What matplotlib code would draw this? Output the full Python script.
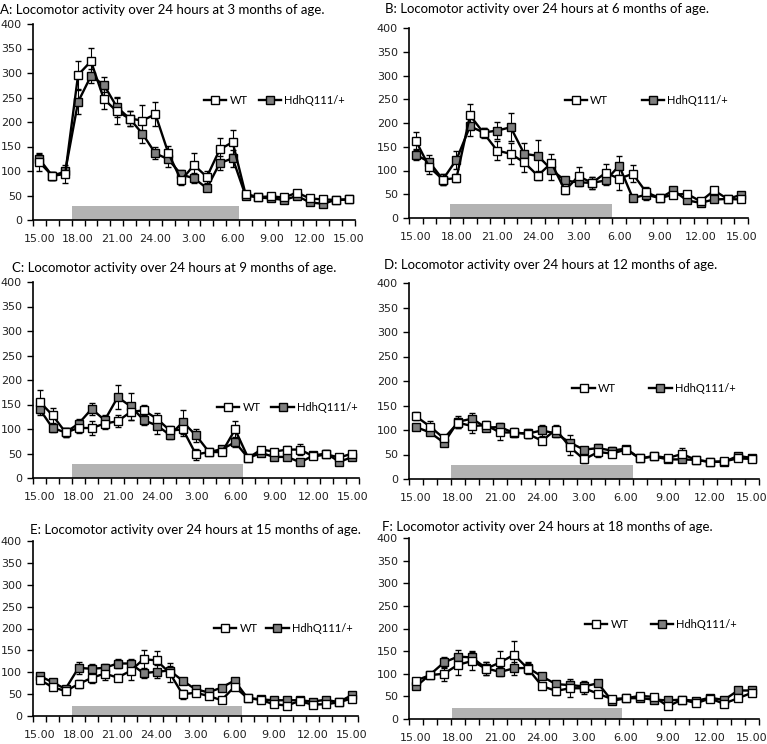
import matplotlib
matplotlib.use("Agg")
import matplotlib.pyplot as plt
import numpy as np

# hourly bins, 15.00 -> 15.00 next day
hour_labels = ['15.00', '18.00', '21.00', '24.00', '3.00', '6.00', '9.00', '12.00', '15.00']

A_wt = [118, 90, 94, 296, 324, 247, 222, 207, 203, 216, 137, 81, 112, 88, 144, 159, 53, 47, 48, 46, 56, 44, 42, 41, 42]
A_wt_err = [18, 8, 18, 29, 28, 20, 27, 15, 31, 25, 15, 10, 24, 12, 23, 25, 6, 5, 6, 6, 6, 5, 5, 5, 5]
A_hd = [124, 90, 99, 241, 294, 276, 231, 207, 176, 136, 124, 93, 85, 65, 116, 126, 50, 46, 44, 41, 49, 36, 33, 41, 42]
A_hd_err = [10, 8, 8, 24, 15, 15, 20, 15, 19, 12, 15, 10, 10, 6, 14, 17, 6, 5, 5, 6, 5, 5, 5, 5, 5]

B_wt = [163, 107, 81, 84, 216, 179, 142, 135, 117, 89, 116, 58, 88, 74, 95, 83, 93, 54, 42, 49, 51, 35, 58, 40, 39]
B_wt_err = [18, 15, 12, 8, 24, 10, 20, 22, 21, 10, 18, 8, 19, 12, 18, 25, 18, 12, 6, 5, 6, 5, 5, 5, 5]
B_hd = [133, 118, 81, 123, 193, 180, 184, 191, 135, 131, 102, 79, 75, 74, 79, 110, 42, 49, 42, 58, 37, 32, 39, 40, 49]
B_hd_err = [10, 15, 12, 19, 20, 10, 18, 29, 22, 34, 21, 8, 8, 12, 10, 20, 5, 12, 6, 5, 5, 5, 5, 5, 5]

C_wt = [156, 128, 93, 102, 102, 111, 116, 135, 138, 121, 97, 99, 48, 53, 53, 99, 41, 58, 54, 58, 58, 44, 48, 42, 50]
C_wt_err = [24, 15, 10, 10, 14, 10, 12, 16, 10, 12, 10, 14, 12, 6, 6, 17, 5, 6, 5, 8, 12, 5, 6, 5, 5]
C_hd = [141, 102, 93, 111, 141, 118, 165, 146, 118, 107, 88, 114, 87, 53, 59, 73, 41, 51, 43, 43, 32, 46, 50, 33, 43]
C_hd_err = [12, 8, 10, 10, 12, 10, 24, 27, 10, 17, 8, 24, 13, 6, 6, 10, 5, 5, 5, 5, 6, 5, 8, 5, 5]

D_wt = [128, 107, 83, 115, 108, 110, 95, 95, 92, 78, 101, 65, 40, 55, 52, 60, 42, 47, 43, 51, 39, 35, 36, 42, 41]
D_wt_err = [8, 12, 6, 10, 14, 8, 15, 10, 8, 6, 10, 15, 8, 10, 6, 5, 5, 5, 5, 12, 5, 4, 5, 5, 5]
D_hd = [106, 95, 74, 117, 123, 105, 106, 94, 93, 99, 93, 74, 60, 63, 58, 62, 42, 46, 40, 40, 39, 35, 35, 47, 43]
D_hd_err = [6, 6, 5, 12, 12, 8, 8, 6, 10, 12, 8, 15, 6, 8, 8, 6, 5, 5, 5, 5, 5, 4, 5, 5, 5]

E_wt = [83, 66, 57, 73, 87, 97, 88, 103, 130, 127, 99, 50, 53, 46, 36, 67, 41, 37, 27, 24, 34, 26, 27, 31, 40]
E_wt_err = [8, 6, 6, 10, 12, 14, 8, 20, 20, 22, 22, 10, 6, 5, 5, 6, 5, 5, 5, 5, 5, 5, 5, 5, 5]
E_hd = [92, 77, 62, 110, 108, 110, 120, 120, 98, 101, 104, 81, 61, 54, 65, 81, 41, 38, 36, 36, 36, 33, 37, 32, 47]
E_hd_err = [6, 6, 6, 14, 12, 10, 10, 10, 10, 15, 10, 6, 5, 5, 5, 6, 5, 5, 5, 5, 5, 5, 5, 5, 5]

F_wt = [85, 97, 100, 120, 128, 111, 125, 142, 111, 73, 62, 68, 68, 56, 44, 46, 51, 49, 28, 43, 35, 45, 34, 46, 58]
F_wt_err = [6, 6, 15, 22, 20, 14, 26, 30, 12, 6, 8, 20, 12, 6, 5, 5, 5, 5, 5, 5, 5, 5, 5, 6, 6]
F_hd = [72, 98, 125, 138, 136, 112, 104, 112, 113, 94, 77, 75, 72, 79, 40, 46, 46, 43, 41, 43, 40, 47, 42, 63, 63]
F_hd_err = [5, 6, 12, 15, 14, 14, 10, 14, 12, 6, 8, 8, 12, 6, 5, 5, 5, 5, 5, 5, 5, 5, 5, 6, 6]

# dark phase bar (start bin, end bin, height)
dark = {'A': (2.5, 15.5, 28), 'B': (2.5, 14.5, 29), 'C': (2.5, 15.6, 28),
        'D': (2.5, 15.5, 29), 'E': (2.5, 15.6, 24), 'F': (2.6, 14.7, 24)}

months = {'A': 3, 'B': 6, 'C': 9, 'D': 12, 'E': 15, 'F': 18}

W, H = 767, 744

# axes boxes in pixels: left, right, top(400), bottom(0)
boxes = {'A': (33, 355, 24, 220), 'B': (409, 748, 28, 218),
         'C': (33, 359, 282, 478), 'D': (409, 759, 283, 479),
         'E': (33, 358, 541, 716), 'F': (409, 759, 538, 719)}
title_pos = {'A': (0, 10), 'B': (385, 9), 'C': (12, 268), 'D': (384, 265),
             'E': (30, 530), 'F': (382, 527)}
legend_pos = {'A': (0.75, 0.61, 1.0), 'B': (0.70, 0.62, 3.0), 'C': (0.78, 0.36, 1.0),
              'D': (0.70, 0.46, 3.0), 'E': (0.77, 0.50, 0.8), 'F': (0.72, 0.52, 2.0)}

series = {'A': (A_wt, A_wt_err, A_hd, A_hd_err), 'B': (B_wt, B_wt_err, B_hd, B_hd_err),
          'C': (C_wt, C_wt_err, C_hd, C_hd_err), 'D': (D_wt, D_wt_err, D_hd, D_hd_err),
          'E': (E_wt, E_wt_err, E_hd, E_hd_err), 'F': (F_wt, F_wt_err, F_hd, F_hd_err)}

title_font = 'Lato'
tick_font = 'DejaVu Sans'

fig = plt.figure(figsize=(W / 100, H / 100), dpi=100)


def draw_panel(key):
    l, r, t, b = boxes[key]
    ax = fig.add_axes([l / W, 1 - b / H, (r - l) / W, (b - t) / H])
    wt, wt_err, hd, hd_err = series[key]
    x = np.arange(len(wt))

    x0, x1, hgt = dark[key]
    ax.bar((x0 + x1) / 2, hgt, width=x1 - x0, bottom=0, color='#b3b3b3', zorder=1)

    ax.errorbar(x, wt, yerr=wt_err, fmt='none', ecolor='black', elinewidth=0.8, capsize=2, zorder=2)
    ax.errorbar(x, hd, yerr=hd_err, fmt='none', ecolor='black', elinewidth=0.8, capsize=2, zorder=2)
    ax.plot(x, hd, color='black', lw=1.7, marker='s', ms=5.7, mfc='#7f7f7f', mec='black', mew=1.0,
            label='HdhQ111/+', zorder=3)
    ax.plot(x, wt, color='black', lw=1.7, marker='s', ms=5.7, mfc='white', mec='black', mew=1.0,
            label='WT', zorder=4)

    ax.set_xlim(-0.5, 24.5)
    ax.set_ylim(0, 400)
    ax.set_yticks(np.arange(0, 401, 50))
    ax.set_xticks(np.arange(0, 25, 3))
    ax.set_xticklabels(hour_labels)
    ax.set_xticks(np.arange(-0.5, 25, 1), minor=True)
    ax.tick_params(axis='x', which='major', length=0, pad=10, labelsize=8)
    ax.tick_params(axis='x', which='minor', length=4, width=1, direction='out')
    ax.tick_params(axis='y', length=4, width=1, direction='out', labelsize=8, pad=4)
    for lab in ax.get_xticklabels() + ax.get_yticklabels():
        lab.set_fontfamily(tick_font)
        lab.set_color('#222222')
    for s in ['top', 'right']:
        ax.spines[s].set_visible(False)
    for s in ['left', 'bottom']:
        ax.spines[s].set_linewidth(1.2)

    h, lb = ax.get_legend_handles_labels()
    lx, ly, cs = legend_pos[key]
    ax.legend(h[::-1], lb[::-1], loc='center', bbox_to_anchor=(lx, ly), ncol=2, frameon=False,
              handlelength=2.0, handletextpad=0.3, columnspacing=cs,
              prop={'family': title_font, 'size': 8})

    tx, ty = title_pos[key]
    fig.text(tx / W, 1 - ty / H,
             '%s: Locomotor activity over 24 hours at %d months of age.' % (key, months[key]),
             ha='left', va='center', fontsize=9.5, family=title_font)
    return ax


for k in ['A', 'B', 'C', 'D', 'E', 'F']:
    draw_panel(k)

plt.savefig('out.png', dpi=100)
